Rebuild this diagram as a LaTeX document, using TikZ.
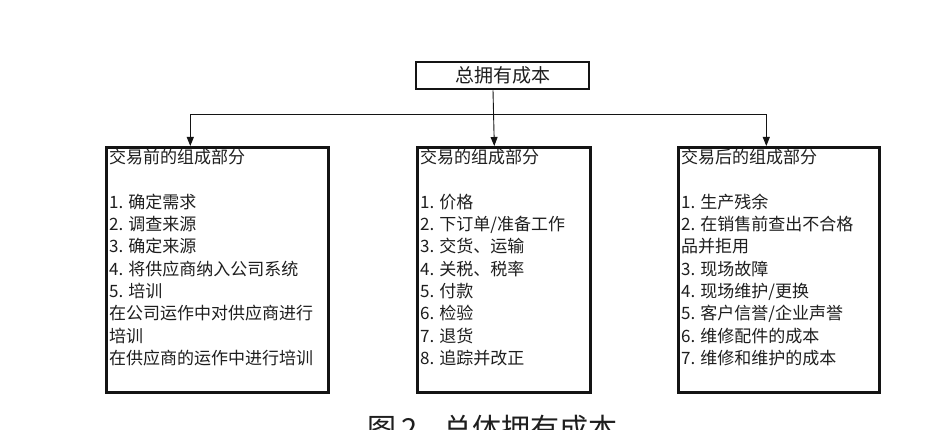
\documentclass[tikz,border=0pt]{standalone}
\usepackage{fontspec}
\setmainfont{Noto Sans CJK SC}
\usetikzlibrary{arrows.meta}
\begin{document}
\begin{tikzpicture}[x=1pt, y=-1pt,
    every node/.style={font=\fontsize{17}{22.3}\selectfont, inner sep=0pt},
    box/.style={draw=boxline, line width=2.6pt},
    list/.style={anchor=north west, align=left, text=ink},
    link/.style={draw=boxline, line width=0.9pt},
    tip/.style={-{Triangle[length=9pt,width=7pt]}}]
        \definecolor{boxline}{RGB}{20,20,20}
        \definecolor{ink}{RGB}{30,30,30}
        \useasboundingbox[fill=white] (0,0) rectangle (942,430);
        % top box and the three parts
        \node[box, minimum width=173pt, minimum height=27pt, text=ink,
              font=\fontsize{19}{22}\selectfont] (total) at (502.5,75.5) {总拥有成本};
        \node[box, anchor=north west, minimum width=222pt, minimum height=245pt] (before) at (105,146) {};
        \node[box, anchor=north west, minimum width=173pt, minimum height=245pt] (during) at (416,146) {};
        \node[box, anchor=north west, minimum width=201pt, minimum height=245pt] (after) at (677,146) {};
        \node[list] (beforetext) at (109,149) {交易前的组成部分\\[22.3pt]
          1. 确定需求\\2. 调查来源\\3. 确定来源\\4. 将供应商纳入公司系统\\5. 培训\\
          在公司运作中对供应商进行\\培训\\在供应商的运作中进行培训};
        \node[list] (duringtext) at (420,149) {交易的组成部分\\[22.3pt]
          1. 价格\\2. 下订单/准备工作\\3. 交货、运输\\4. 关税、税率\\5. 付款\\
          6. 检验\\7. 退货\\8. 追踪并改正};
        \node[list] (aftertext) at (681,149) {交易后的组成部分\\[22.3pt]
          1. 生产残余\\2. 在销售前查出不合格\\品并拒用\\3. 现场故障\\4. 现场维护/更换\\
          5. 客户信誉/企业声誉\\6. 维修配件的成本\\7. 维修和维护的成本};
        % connectors
        \coordinate (split) at (493,114);
        \draw[link, tip] ([xshift=-9.5pt]total.south) -- ([xshift=-9.5pt]during.north);
        \draw[link, tip] (split) -| ([xshift=-27pt]before.north);
        \draw[link, tip] (split) -| ([xshift=-12.5pt]after.north);
        \node[anchor=north west, text=ink, font=\fontsize{29}{30}\selectfont] (caption)
          at (367,415) {图\,2\hspace{26pt}总体拥有成本};
\end{tikzpicture}
\end{document}
